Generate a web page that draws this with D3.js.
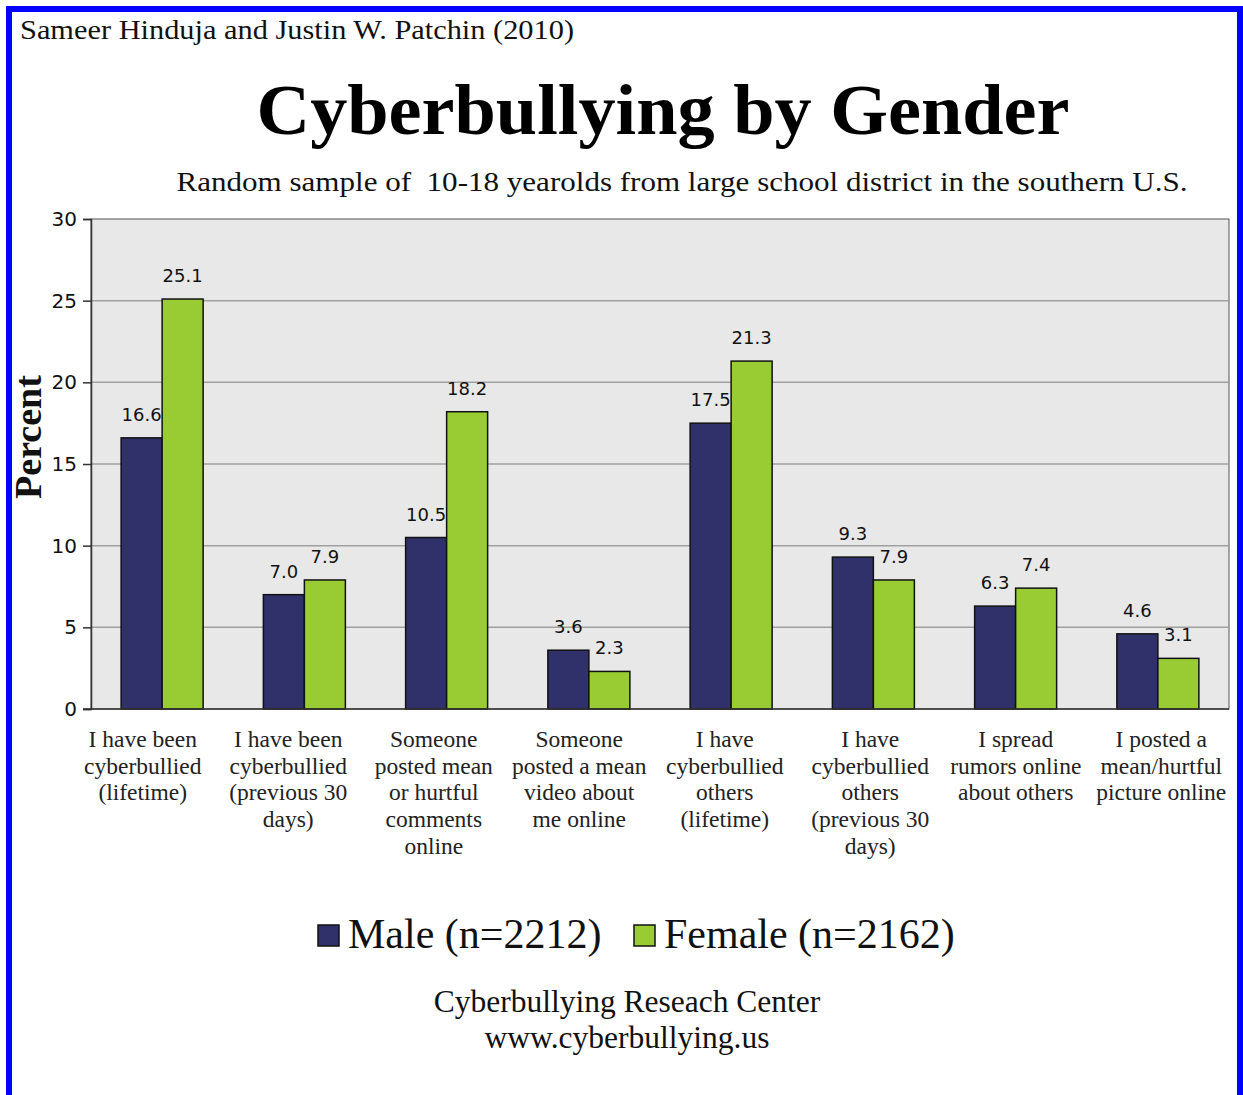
<!DOCTYPE html>
<html>
<head>
<meta charset="utf-8">
<script src="https://cdn.jsdelivr.net/npm/d3@7"></script>
<style>
  html, body { margin: 0; padding: 0; background: #fff; }
  svg { display: block; }
</style>
</head>
<body>
<svg id="chart" width="1243" height="1095"></svg>
<script>
const categories = [
  ["I have been", "cyberbullied", "(lifetime)"],
  ["I have been", "cyberbullied", "(previous 30", "days)"],
  ["Someone", "posted mean", "or hurtful", "comments", "online"],
  ["Someone", "posted a mean", "video about", "me online"],
  ["I have", "cyberbullied", "others", "(lifetime)"],
  ["I have", "cyberbullied", "others", "(previous 30", "days)"],
  ["I spread", "rumors online", "about others"],
  ["I posted a", "mean/hurtful", "picture online"]
];
const maleValues   = [16.6, 7.0, 10.5, 3.6, 17.5, 9.3, 6.3, 4.6];
const femaleValues = [25.1, 7.9, 18.2, 2.3, 21.3, 7.9, 7.4, 3.1];
const seriesNames  = ["Male (n=2212)", "Female (n=2162)"];
const yTicks = [0, 5, 10, 15, 20, 25, 30];
const titleText = "Cyberbullying by Gender";
const subtitleText = "Random sample of  10-18 yearolds from large school district in the southern U.S.";
const authorText = "Sameer Hinduja and Justin W. Patchin (2010)";
const footerLines = ["Cyberbullying Reseach Center", "www.cyberbullying.us"];

const colors = ["#30306a", "#99cc33"];
const serif = "'Liberation Serif', 'DejaVu Serif', serif";
const sans = "'DejaVu Sans', Verdana, sans-serif";

const svg = d3.select("#chart");

// blue frame
svg.append("rect").attr("x", 9).attr("y", 9).attr("width", 1231).attr("height", 1100)
  .attr("fill", "none").attr("stroke", "#0000ff").attr("stroke-width", 6);

const plot = { left: 91, right: 1229, top: 219, bottom: 709 };

const x = d3.scaleBand().domain(d3.range(categories.length))
  .range([plot.left, plot.right]).paddingInner(0.4235).paddingOuter(0.21175);
const xs = d3.scaleBand().domain([0, 1]).range([0, x.bandwidth()]);
const xLab = d3.scaleBand().domain(d3.range(categories.length)).range([70, 1234]);
const y = d3.scaleLinear().domain([0, 30]).range([plot.bottom, plot.top]);

// plot background
svg.append("rect").attr("x", plot.left).attr("y", plot.top)
  .attr("width", plot.right - plot.left).attr("height", plot.bottom - plot.top)
  .attr("fill", "#e8e8e8").attr("stroke", "#555").attr("stroke-width", 1);

// gridlines
svg.append("g").selectAll("line").data(yTicks.filter(t => t > 0 && t < 30)).join("line")
  .attr("x1", plot.left).attr("x2", plot.right)
  .attr("y1", d => y(d)).attr("y2", d => y(d))
  .attr("stroke", "#a0a0a0").attr("stroke-width", 1.5);

// y axis
const yAxis = svg.append("g").attr("transform", `translate(${plot.left},0)`)
  .call(d3.axisLeft(y).tickValues(yTicks).tickSize(8).tickPadding(6));
yAxis.select(".domain").attr("stroke", "#333").attr("stroke-width", 1.5);
yAxis.selectAll(".tick line").attr("stroke", "#333").attr("stroke-width", 1.5);
yAxis.selectAll(".tick text").attr("font-family", sans).attr("font-size", 20).attr("fill", "#111");

// bars
const groups = svg.append("g").selectAll("g").data(categories.map((c, i) => i)).join("g")
  .attr("transform", i => `translate(${x(i)},0)`);
groups.selectAll("rect").data(i => [maleValues[i], femaleValues[i]]).join("rect")
  .attr("x", (d, j) => xs(j)).attr("width", xs.bandwidth())
  .attr("y", d => y(d)).attr("height", d => y(0) - y(d))
  .attr("fill", (d, j) => colors[j]).attr("stroke", "#111").attr("stroke-width", 1.5);
groups.selectAll("text").data(i => [maleValues[i], femaleValues[i]]).join("text")
  .attr("x", (d, j) => xs(j) + xs.bandwidth() / 2)
  .attr("y", d => y(d) - 17)
  .attr("text-anchor", "middle").attr("font-family", sans).attr("font-size", 18).attr("fill", "#111")
  .text(d => d.toFixed(1));

// x axis baseline
svg.append("line").attr("x1", plot.left - 8).attr("x2", plot.right)
  .attr("y1", plot.bottom).attr("y2", plot.bottom).attr("stroke", "#333").attr("stroke-width", 1.5);

// category labels
const catLab = svg.append("g").selectAll("text").data(categories).join("text")
  .attr("x", (d, i) => xLab(i) + xLab.bandwidth() / 2)
  .attr("y", 747)
  .attr("text-anchor", "middle").attr("font-family", serif).attr("font-size", 23.5).attr("fill", "#222");
catLab.selectAll("tspan").data(d => d).join("tspan")
  .attr("x", function () { return d3.select(this.parentNode).attr("x"); })
  .attr("dy", (d, k) => k === 0 ? 0 : 26.7)
  .text(d => d);

// y label
svg.append("text").attr("transform", "translate(41,437) rotate(-90)")
  .attr("text-anchor", "middle").attr("font-family", serif).attr("font-weight", "bold")
  .attr("font-size", 38).attr("fill", "#111").text("Percent");

// texts
svg.append("text").attr("x", 20).attr("y", 39).attr("font-family", serif)
  .attr("font-size", 28).attr("fill", "#111")
  .attr("textLength", 554).attr("lengthAdjust", "spacingAndGlyphs").text(authorText);
svg.append("text").attr("x", 663).attr("y", 134).attr("text-anchor", "middle")
  .attr("font-family", serif).attr("font-weight", "bold").attr("font-size", 72)
  .attr("textLength", 813).attr("lengthAdjust", "spacingAndGlyphs")
  .attr("fill", "#000").text(titleText);
svg.append("text").attr("x", 682).attr("y", 191).attr("text-anchor", "middle")
  .attr("font-family", serif).attr("font-size", 28).attr("fill", "#111")
  .style("white-space", "pre")
  .attr("textLength", 1011).attr("lengthAdjust", "spacingAndGlyphs").text(subtitleText);

// legend
const legendX = [318, 634];
const lg = svg.append("g").selectAll("g").data(seriesNames).join("g")
  .attr("transform", (d, i) => `translate(${legendX[i]},925)`);
lg.append("rect").attr("width", 21).attr("height", 21)
  .attr("fill", (d, i) => colors[i]).attr("stroke", "#111").attr("stroke-width", 1.5);
lg.append("text").attr("x", 30).attr("y", 23).attr("font-family", serif)
  .attr("font-size", 42).attr("fill", "#111").text(d => d);

// footer
svg.append("g").selectAll("text").data(footerLines).join("text")
  .attr("x", 627).attr("y", (d, i) => 1012 + i * 36).attr("text-anchor", "middle")
  .attr("font-family", serif).attr("font-size", 31.5).attr("fill", "#111").text(d => d);
</script>
</body>
</html>
